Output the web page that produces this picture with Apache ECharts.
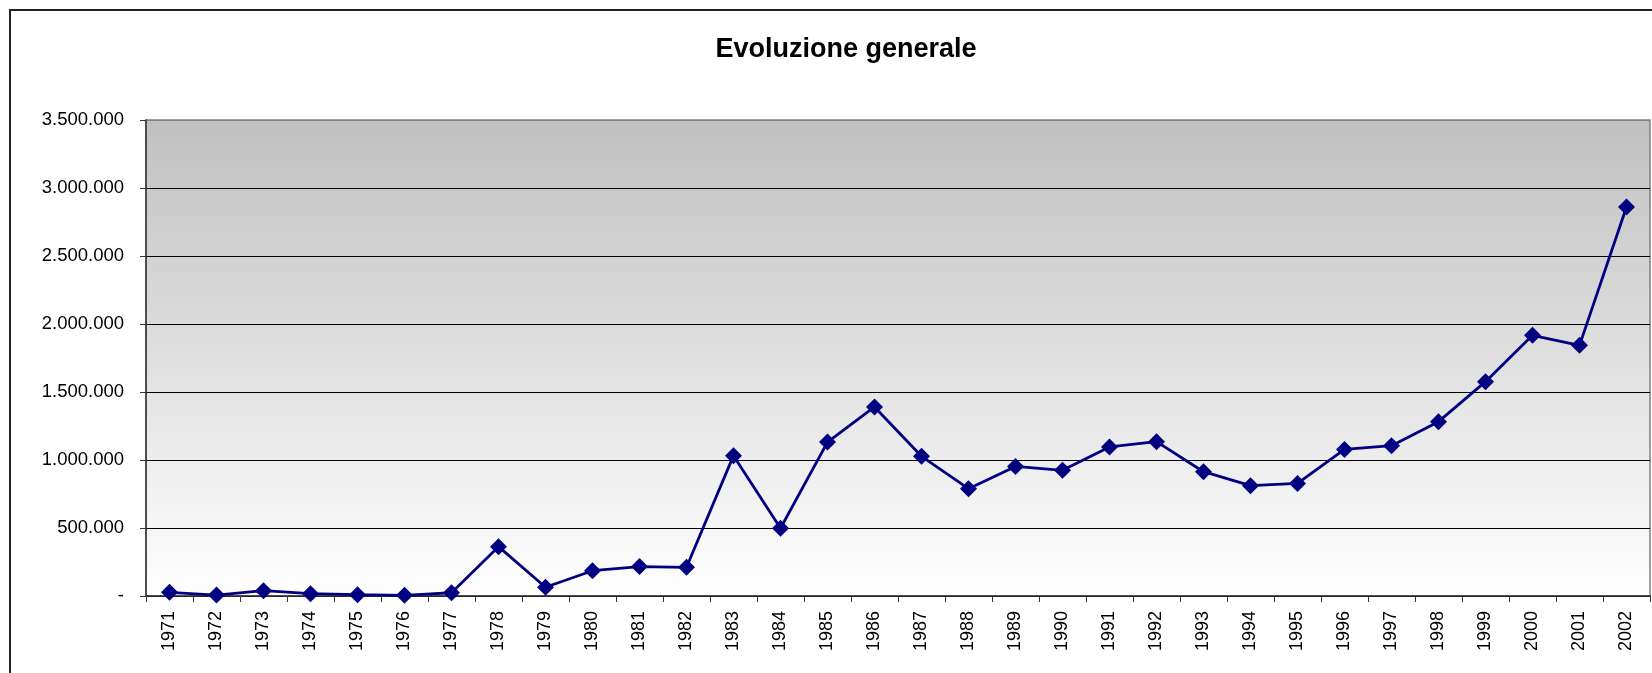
<!DOCTYPE html>
<html>
<head>
<meta charset="utf-8">
<script src="https://cdn.jsdelivr.net/npm/echarts@6/dist/echarts.min.js"></script>
<style>
html,body{margin:0;padding:0;background:#fff;}
#chart{width:1652px;height:673px;}
</style>
</head>
<body>
<div id="chart"></div>
<script>
const years = ['1971','1972','1973','1974','1975','1976','1977','1978','1979','1980','1981','1982','1983','1984','1985','1986','1987','1988','1989','1990','1991','1992','1993','1994','1995','1996','1997','1998','1999','2000','2001','2002'];
const values = [27000, 7000, 39000, 17000, 10000, 5000, 24000, 363000, 64000, 186000, 216000, 211000, 1032000, 498000, 1132000, 1390000, 1027000, 789000, 953000, 924000, 1096000, 1135000, 914000, 811000, 828000, 1078000, 1105000, 1282000, 1576000, 1917000, 1843000, 2860000];
const titleText = 'Evoluzione generale';

function fmt(v){
  if (v === 0) return '-';
  return String(v).replace(/\B(?=(\d{3})+(?!\d))/g, '.');
}

const chart = echarts.init(document.getElementById('chart'));
chart.setOption({
  animation: false,
  backgroundColor: '#ffffff',
  title: {
    text: titleText,
    left: 841,
    textAlign: 'center',
    top: 31,
    textStyle: {fontFamily: 'Liberation Sans, Arial, sans-serif', fontSize: 27, fontWeight: 'bold', color: '#000'}
  },
  graphic: [{
    type: 'rect',
    shape: {x: 10, y: 10, width: 1720, height: 720},
    style: {fill: 'none', stroke: '#222', lineWidth: 2},
    silent: true
  }],
  grid: {
    left: 146, top: 120, width: 1504, height: 476,
    show: true,
    backgroundColor: {type: 'linear', x: 0, y: 0, x2: 0, y2: 1,
      colorStops: [{offset: 0, color: '#c0c0c0'}, {offset: 1, color: '#ffffff'}]},
    borderColor: '#808080', borderWidth: 1.5
  },
  xAxis: {
    type: 'category',
    data: years,
    boundaryGap: true,
    axisLine: {lineStyle: {color: '#333', width: 1.5}},
    axisTick: {show: true, length: 6, lineStyle: {color: '#333', width: 1}},
    axisLabel: {rotate: 90, margin: 15, interval: 0, color: '#000',
      fontFamily: 'Liberation Sans, Arial, sans-serif', fontSize: 18},
    splitLine: {show: false}
  },
  yAxis: {
    type: 'value',
    min: 0, max: 3500000, interval: 500000,
    axisLine: {show: true, lineStyle: {color: '#333', width: 1.5}},
    axisTick: {show: true, length: 6, lineStyle: {color: '#333', width: 1}},
    axisLabel: {margin: 22, color: '#000', formatter: fmt,
      fontFamily: 'Liberation Sans, Arial, sans-serif', fontSize: 18.5},
    splitLine: {show: true, lineStyle: {color: ['#000','#000','#000','#000','#000','#000','#000','#808080'], width: 1}}
  },
  series: [{
    type: 'line',
    data: values,
    symbol: 'diamond',
    symbolSize: 17,
    lineStyle: {color: '#000080', width: 2.8},
    itemStyle: {color: '#000080'}
  }]
});
</script>
</body>
</html>
